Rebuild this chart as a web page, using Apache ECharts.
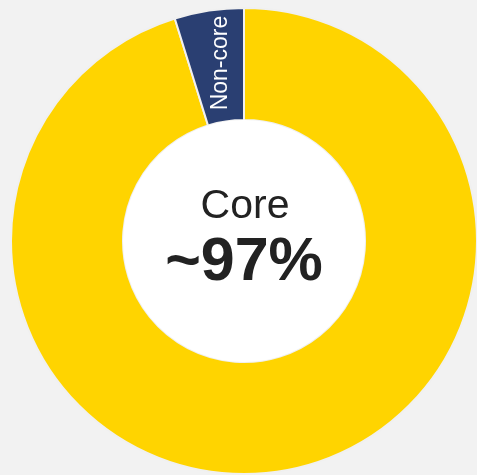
<!DOCTYPE html>
<html lang="en">
<head>
    <meta charset="UTF-8">
    <title>Core vs Non-core</title>
    <script type="text/javascript" src="https://cdn.jsdelivr.net/npm/echarts@6/dist/echarts.min.js"></script>
    <style>
        html, body { margin: 0; padding: 0; background: #f2f2f2; }
        #chart { width: 477px; height: 475px; }
    </style>
</head>
<body>
<div id="chart"></div>
<script type="text/javascript">
    // 数据
    var names = ['Core', 'Non-core'];
    var values = [95.2, 4.8];
    var colors = ['#ffd400', '#2a3f72'];
    var centerTitle = 'Core';
    var centerValue = '~97%';

    var chart = echarts.init(document.getElementById('chart'));
    var pieData = [];
    for (var i = 0; i < names.length; i++) {
        pieData.push({
            name: names[i],
            value: values[i],
            itemStyle: { color: colors[i] },
            label: { show: i == 1 }
        });
    }

    var option = {
        backgroundColor: '#f2f2f2',
        animation: false,
        graphic: [
            {
                type: 'text', x: 245, y: 227,
                style: {
                    text: centerTitle, fill: '#222',
                    font: '41px "Liberation Sans", Arial, sans-serif',
                    textAlign: 'center', textVerticalAlign: 'bottom'
                },
                z: 10
            },
            {
                type: 'text', x: 244, y: 294,
                style: {
                    text: centerValue, fill: '#222',
                    font: 'bold 61px "Liberation Sans", Arial, sans-serif',
                    textAlign: 'center', textVerticalAlign: 'bottom'
                },
                z: 10
            }
        ],
        series: [
            {
                name: 'share',
                type: 'pie',
                center: [244, 241],
                radius: [121, 233],
                startAngle: 90,
                clockwise: true,
                silent: true,
                itemStyle: { borderColor: '#f0f0f0', borderWidth: 2 },
                label: {
                    position: 'inside',
                    rotate: 90,
                    color: '#fff',
                    fontSize: 23,
                    fontFamily: '"Liberation Sans", Arial, sans-serif',
                    formatter: '{b}',
                    offset: [0, 4]
                },
                labelLine: { show: false },
                data: pieData
            },
            {
                // 中间白色圆
                name: 'hole',
                type: 'pie',
                center: [244, 241],
                radius: [0, 121],
                silent: true,
                label: { show: false },
                labelLine: { show: false },
                itemStyle: { color: '#ffffff' },
                data: [{ name: 'hole', value: 1 }]
            }
        ]
    };
    chart.setOption(option);
</script>
</body>
</html>
